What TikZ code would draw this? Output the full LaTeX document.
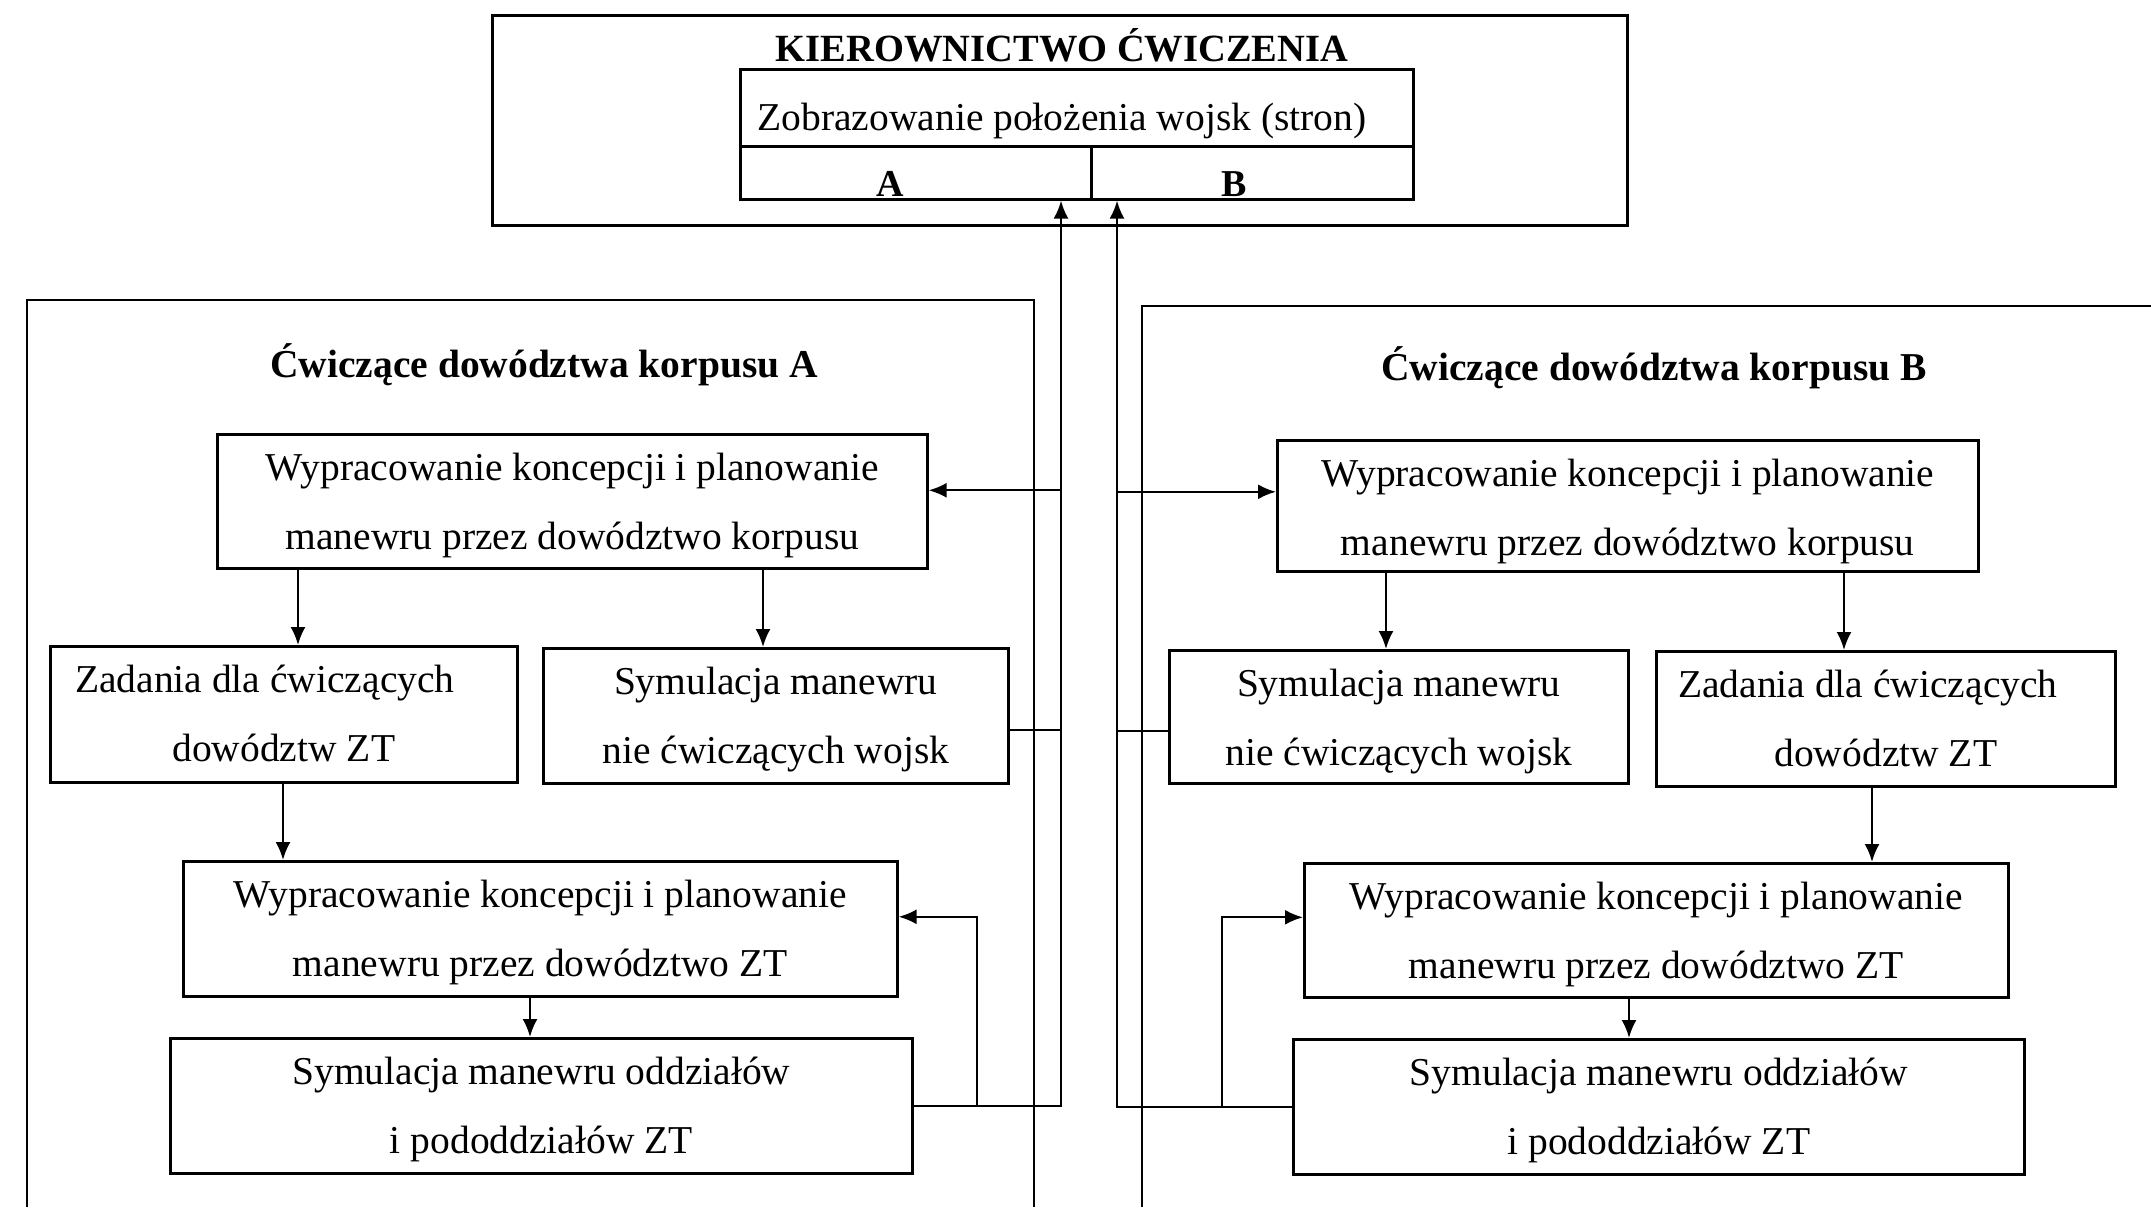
\documentclass[tikz,border=0pt]{standalone}
\usepackage{fontspec}
\setmainfont{Liberation Serif}
\usetikzlibrary{arrows.meta}

% two centred lines of text inside a box node: #1 box name, #2 shift of line 1, #3 line 1, #4 line 2
\newcommand\cellpair[4]{%
  \node[txt] (#1-l1) at ([xshift=#2,yshift=-47pt]#1.north) {#3};
  \node[txt] (#1-l2) at ([yshift=-116pt]#1.north) {#4};}

\begin{document}
\begin{tikzpicture}[x=1pt,y=-1pt,
  frame/.style={line width=2.6pt},
  cell/.style={draw, line width=2.6pt, anchor=north west, inner sep=0pt},
  txt/.style={anchor=base, inner sep=0pt, font=\fontsize{39.5}{47}\selectfont},
  head/.style={anchor=base, inner sep=0pt, font=\fontsize{39.5}{47}\selectfont\bfseries},
  conn/.style={line width=2.3pt},
  arr/.style={line width=2.3pt, -{Latex[length=18pt,width=15pt]}}
]
\useasboundingbox (0,0) rectangle (2151,1207);

% exercise management block
\node[cell, minimum width=1135pt, minimum height=210pt] (kier) at (491,14) {};
\node[head, font=\fontsize{38.5}{46}\selectfont\bfseries] (kiert) at (1062,62) {KIEROWNICTWO ĆWICZENIA};
\node[cell, minimum width=673pt, minimum height=77pt] (zobr) at (739,68) {};
\node[txt] (zobrt) at (1062,130) {Zobrazowanie położenia wojsk (stron)};
\node[cell, minimum width=351pt, minimum height=53pt] (ca) at (739,145) {};
\node[cell, minimum width=322pt, minimum height=53pt] (cb) at (1090,145) {};
\node[head, font=\fontsize{38}{46}\selectfont\bfseries] (cat) at (890,196) {A};
\node[head, font=\fontsize{38}{46}\selectfont\bfseries] (cbt) at (1234,196) {B};

% corps frames (open towards the lower and right edges)
\draw[frame] (27,1207) -- (27,300) -- (1034,300) -- (1034,1207);
\draw[frame] (1142,1207) -- (1142,306) -- (2151,306);
\node[head] (tA) at (544,377) {Ćwiczące dowództwa korpusu A};
\node[head] (tB) at (1654,380) {Ćwiczące dowództwa korpusu B};

% corps A
\node[cell, minimum width=710pt, minimum height=134pt] (a1) at (216,433) {};
\node[cell, minimum width=467pt, minimum height=136pt] (a2) at (49,645) {};
\node[cell, minimum width=465pt, minimum height=135pt] (a3) at (542,647) {};
\node[cell, minimum width=714pt, minimum height=135pt] (a4) at (182,860) {};
\node[cell, minimum width=742pt, minimum height=135pt] (a5) at (169,1037) {};
\cellpair{a1}{0pt}{Wypracowanie koncepcji i planowanie}{manewru przez dowództwo korpusu}
\cellpair{a2}{-19pt}{Zadania dla ćwiczących}{dowództw ZT}
\cellpair{a3}{0pt}{Symulacja manewru}{nie ćwiczących wojsk}
\cellpair{a4}{0pt}{Wypracowanie koncepcji i planowanie}{manewru przez dowództwo ZT}
\cellpair{a5}{0pt}{Symulacja manewru oddziałów}{i pododdziałów ZT}

% corps B
\node[cell, minimum width=701pt, minimum height=131pt] (b1) at (1276,439) {};
\node[cell, minimum width=459pt, minimum height=133pt] (b2) at (1168,649) {};
\node[cell, minimum width=459pt, minimum height=135pt] (b3) at (1655,650) {};
\node[cell, minimum width=704pt, minimum height=134pt] (b4) at (1303,862) {};
\node[cell, minimum width=731pt, minimum height=135pt] (b5) at (1292,1038) {};
\cellpair{b1}{0pt}{Wypracowanie koncepcji i planowanie}{manewru przez dowództwo korpusu}
\cellpair{b2}{0pt}{Symulacja manewru}{nie ćwiczących wojsk}
\cellpair{b3}{-18pt}{Zadania dla ćwiczących}{dowództw ZT}
\cellpair{b4}{0pt}{Wypracowanie koncepcji i planowanie}{manewru przez dowództwo ZT}
\cellpair{b5}{0pt}{Symulacja manewru oddziałów}{i pododdziałów ZT}

% vertical buses and feedback columns
\coordinate (busA) at (1061,0);
\coordinate (busB) at (1117,0);
\coordinate (fbA) at (977,0);
\coordinate (fbB) at (1222,0);

% bus A
\draw[arr] (a5.east) -| (busA |- ca.south);
\draw[arr] (fbA |- a5.east) |- ([yshift=12pt]a4.east);
\draw[conn] ([yshift=-14pt]a3.east) coordinate (a3o) -- (busA |- a3o);
\coordinate (a1in) at ([yshift=11pt]a1.east);
\draw[arr] (busA |- a1in) -- (a1in);

% bus B
\draw[arr] (b5.west) -| (busB |- cb.south);
\draw[arr] (fbB |- b5.west) |- ([yshift=13pt]b4.west);
\draw[conn] ([yshift=-14pt]b2.west) coordinate (b2o) -- (busB |- b2o);
\coordinate (b1in) at ([yshift=14pt]b1.west);
\draw[arr] (busB |- b1in) -- (b1in);

% downward flows inside corps A
\draw[arr] (298,0 |- a1.south) -- (298,0 |- a2.north);
\draw[arr] (763,0 |- a1.south) -- (763,0 |- a3.north);
\draw[arr] (283,0 |- a2.south) -- (283,0 |- a4.north);
\draw[arr] (530,0 |- a4.south) -- (530,0 |- a5.north);

% downward flows inside corps B
\draw[arr] (1386,0 |- b1.south) -- (1386,0 |- b2.north);
\draw[arr] (1844,0 |- b1.south) -- (1844,0 |- b3.north);
\draw[arr] (1872,0 |- b3.south) -- (1872,0 |- b4.north);
\draw[arr] (1629,0 |- b4.south) -- (1629,0 |- b5.north);
\end{tikzpicture}
\end{document}
